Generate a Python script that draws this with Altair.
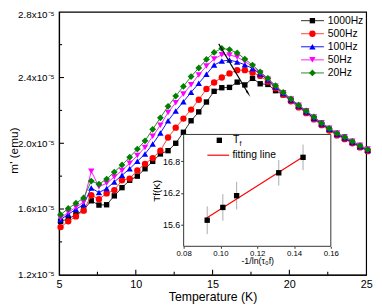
import altair as alt
import pandas as pd

FONT = "Liberation Sans"

# ---------------- main data (m' in units of 1e-5 emu) ----------------
temps = [5.1, 5.6, 6.1, 6.6, 7.1, 7.6, 8.1, 8.6, 9.1, 9.6,
         10.1, 10.6, 11.1, 11.6, 12.1, 12.6, 13.1, 13.6, 14.1, 14.6,
         15.1, 15.6, 16.1, 16.6, 17.1, 17.6, 18.1, 18.6, 19.1, 19.6,
         20.1, 20.6, 21.1, 21.6, 22.1, 22.6, 23.1, 23.6, 24.1, 24.6, 25.1]

m_1000 = [1.525, 1.540, 1.565, 1.595, 1.650, 1.624, 1.626, 1.680, 1.730, 1.775,
          1.800, 1.845, 1.890, 1.935, 1.955, 2.000, 2.067, 2.137, 2.191, 2.251,
          2.316, 2.338, 2.340, 2.372, 2.355, 2.395, 2.362, 2.358, 2.320, 2.295,
          2.262, 2.225, 2.190, 2.150, 2.115, 2.083, 2.053, 2.030, 2.004, 1.978, 1.955]

m_500 = [1.490, 1.525, 1.555, 1.590, 1.684, 1.660, 1.695, 1.715, 1.775, 1.785,
         1.835, 1.875, 1.910, 1.955, 2.035, 2.095, 2.150, 2.205, 2.265, 2.330,
         2.370, 2.400, 2.425, 2.445, 2.445, 2.430, 2.410, 2.375, 2.335, 2.295,
         2.255, 2.218, 2.183, 2.145, 2.110, 2.078, 2.048, 2.025, 2.000, 1.975, 1.952]

m_100 = [1.535, 1.568, 1.598, 1.628, 1.728, 1.700, 1.725, 1.765, 1.805, 1.845,
         1.890, 1.935, 1.995, 2.062, 2.137, 2.197, 2.253, 2.310, 2.365, 2.420,
         2.476, 2.500, 2.506, 2.495, 2.478, 2.455, 2.422, 2.385, 2.342, 2.303,
         2.263, 2.227, 2.190, 2.153, 2.118, 2.085, 2.055, 2.032, 2.006, 1.980, 1.958]

m_50 = [1.545, 1.580, 1.610, 1.643, 1.830, 1.735, 1.757, 1.795, 1.835, 1.878,
        1.925, 1.975, 2.042, 2.110, 2.187, 2.247, 2.300, 2.356, 2.416, 2.470,
        2.512, 2.539, 2.537, 2.525, 2.497, 2.467, 2.428, 2.390, 2.347, 2.307,
        2.270, 2.232, 2.198, 2.160, 2.125, 2.092, 2.062, 2.040, 2.013, 1.988, 1.965]

m_20 = [1.565, 1.603, 1.635, 1.667, 1.770, 1.752, 1.782, 1.825, 1.868, 1.915,
        1.965, 2.015, 2.085, 2.155, 2.225, 2.287, 2.346, 2.406, 2.458, 2.510,
        2.553, 2.577, 2.570, 2.550, 2.512, 2.476, 2.434, 2.395, 2.350, 2.310,
        2.270, 2.232, 2.197, 2.160, 2.123, 2.090, 2.060, 2.038, 2.012, 1.985, 1.962]

series_names = ["1000Hz", "500Hz", "100Hz", "50Hz", "20Hz"]
series_values = [m_1000, m_500, m_100, m_50, m_20]

# ---------------- inset data ----------------
inv_x = [0.0928, 0.1013, 0.1088, 0.1317, 0.1449]
tf = [15.69, 15.93, 16.15, 16.58, 16.87]
tf_err = [0.26, 0.25, 0.26, 0.24, 0.24]
fit_x = [0.0925, 0.145]
fit_y = [15.73, 16.88]

# ---------------- styles ----------------
styles = {
    "1000Hz": dict(line="#303030", pt="#000000", shape="square", size=30),
    "500Hz": dict(line="#ff4040", pt="#ff0000", shape="circle", size=42),
    "100Hz": dict(line="#1010ff", pt="#0000ff", shape="triangle-up", size=42),
    "50Hz": dict(line="#ff20ff", pt="#ff00ff", shape="triangle-down", size=42),
    "20Hz": dict(line="#2a8a2a", pt="#008000", shape="diamond", size=48),
}

xs = alt.Scale(domain=[5, 25], nice=False, zero=False)
ys = alt.Scale(domain=[1.2, 2.8], nice=False, zero=False)

x_axis = alt.Axis(values=[5, 10, 15, 20, 25], tickSize=0, labelFontSize=11,
                  labelPadding=4, labelFlush=False, grid=False,
                  domainColor="black", domainWidth=1.2,
                  title="Temperature (K)", titleFontSize=12.5, titlePadding=1)
y_axis = alt.Axis(values=[1.2, 1.6, 2.0, 2.4, 2.8], tickSize=0, labelFontSize=10,
                  labelPadding=5, labelFlush=False, grid=False,
                  labelExpr="format(datum.value, '.1f') + 'x10⁻⁵'",
                  labelOffset=alt.condition("datum.value > 2.7", alt.value(3), alt.value(0)),
                  domainColor="black", domainWidth=1.2,
                  title="m' (emu)", titleFontSize=12, titleAngle=270,
                  titleX=-51, titleY=141, titleBaseline="top", titleAlign="center")


def X(f):
    return alt.X(f, scale=xs, axis=x_axis)


def Y(f):
    return alt.Y(f, scale=ys, axis=y_axis)


layers = []

# inward ticks
tx_major = pd.DataFrame({"x": [10, 15, 20], "y": 1.2, "y2": 1.23})
tx_minor = pd.DataFrame({"x": [7.5, 12.5, 17.5, 22.5], "y": 1.2, "y2": 1.218})
ty_major = pd.DataFrame({"y": [1.6, 2.0, 2.4], "x": 5.0, "x2": 5.32})
ty_minor = pd.DataFrame({"y": [1.4, 1.8, 2.2, 2.6], "x": 5.0, "x2": 5.2})

for d in [tx_major, tx_minor]:
    layers.append(alt.Chart(d).mark_rule(color="black", strokeWidth=1.1).encode(
        x=X("x:Q"), y=Y("y:Q"), y2="y2:Q"))
for d in [ty_major, ty_minor]:
    layers.append(alt.Chart(d).mark_rule(color="black", strokeWidth=1.1).encode(
        x=X("x:Q"), x2="x2:Q", y=Y("y:Q")))

# data series
for name, vals in zip(series_names, series_values):
    st = styles[name]
    d = pd.DataFrame({"T": temps, "m": vals})
    layers.append(alt.Chart(d).mark_line(color=st["line"], strokeWidth=1).encode(
        x=X("T:Q"), y=Y("m:Q")))
    layers.append(alt.Chart(d).mark_point(filled=True, shape=st["shape"], size=st["size"],
                                          color=st["pt"], opacity=1).encode(
        x=X("T:Q"), y=Y("m:Q")))

# arrow
arrow = pd.DataFrame({"T": [15.4, 17.3], "m": [2.605, 2.306]})
layers.append(alt.Chart(arrow).mark_line(color="black", strokeWidth=1.2).encode(
    x=X("T:Q"), y=Y("m:Q")))
layers.append(alt.Chart(arrow.iloc[[1]]).mark_point(shape="wedge", angle=149, size=70,
                                                   filled=True, color="black", opacity=1).encode(
    x=X("T:Q"), y=Y("m:Q")))

# legend (placed in data coordinates)
for k, name in enumerate(series_names):
    st = styles[name]
    ly = 2.746 - 0.0795 * k
    seg = pd.DataFrame({"T": [20.76, 22.25], "m": [ly, ly]})
    layers.append(alt.Chart(seg).mark_line(color=st["line"], strokeWidth=1).encode(
        x=X("T:Q"), y=Y("m:Q")))
    pt = pd.DataFrame({"T": [21.5], "m": [ly], "label": [name]})
    layers.append(alt.Chart(pt).mark_point(filled=True, shape=st["shape"], size=st["size"],
                                           color=st["pt"], opacity=1).encode(
        x=X("T:Q"), y=Y("m:Q")))
    lt = pd.DataFrame({"T": [22.5], "m": [ly], "label": [name]})
    layers.append(alt.Chart(lt).mark_text(align="left", baseline="middle", fontSize=10.5,
                                          font=FONT, color="black").encode(
        x=X("T:Q"), y=Y("m:Q"), text="label:N"))

main = alt.layer(*layers)

# ---------------- inset ----------------
ixs = alt.Scale(domain=[0.08, 0.16], range=[127, 277], nice=False, zero=False)
iys = alt.Scale(domain=[15.2, 17.3], range=[239, 125], nice=False, zero=False)

ix_axis = alt.Axis(orient="bottom", offset=-29, values=[0.08, 0.10, 0.12, 0.14, 0.16],
                   format=".2f", labelFontSize=8, tickSize=2, labelPadding=1,
                   domain=False, grid=False, labelFlush=False, tickColor="#333",
                   title="-1/ln(τ₀f)", titleFontSize=9, titlePadding=0)
iy_axis = alt.Axis(orient="left", offset=-127, values=[15.6, 16.2, 16.8], format=".1f",
                   labelFontSize=9, tickSize=3, labelPadding=1, domain=False, grid=False,
                   labelFlush=False, tickColor="#333",
                   title="Tf(K)", titleFontSize=10, titlePadding=1)


def IX(f):
    return alt.X(f, scale=ixs, axis=ix_axis)


def IY(f):
    return alt.Y(f, scale=iys, axis=iy_axis)


frame = pd.DataFrame({"x": [0.08], "x2": [0.16], "y": [15.2], "y2": [17.3]})
ilayers = [alt.Chart(frame).mark_rect(fill="white", stroke="#333333", strokeWidth=1).encode(
    x=IX("x:Q"), x2="x2:Q", y=IY("y:Q"), y2="y2:Q")]

idf = pd.DataFrame({"x": inv_x, "y": tf, "err": tf_err})
idf["lo"] = idf["y"] - idf["err"]
idf["hi"] = idf["y"] + idf["err"]
ilayers.append(alt.Chart(idf).mark_rule(color="#aaaaaa", strokeWidth=1).encode(
    x=IX("x:Q"), y=IY("lo:Q"), y2="hi:Q"))
fdf = pd.DataFrame({"x": fit_x, "y": fit_y})
ilayers.append(alt.Chart(fdf).mark_line(color="#ff0000", strokeWidth=1.2).encode(
    x=IX("x:Q"), y=IY("y:Q")))
ilayers.append(alt.Chart(idf).mark_point(filled=True, shape="square", size=30,
                                         color="black", opacity=1).encode(
    x=IX("x:Q"), y=IY("y:Q")))

# inset legend
ilayers.append(alt.Chart(pd.DataFrame({"x": [0.0994], "y": [17.19]})).mark_point(
    filled=True, shape="square", size=30, color="black", opacity=1).encode(
    x=IX("x:Q"), y=IY("y:Q")))
ilayers.append(alt.Chart(pd.DataFrame({"x": [0.1068], "y": [17.19], "t": ["T"]})).mark_text(
    align="left", baseline="middle", fontSize=10.5, font=FONT, color="black").encode(
    x=IX("x:Q"), y=IY("y:Q"), text="t:N"))
ilayers.append(alt.Chart(pd.DataFrame({"x": [0.1103], "y": [17.125], "t": ["f"]})).mark_text(
    align="left", baseline="middle", fontSize=7, font=FONT, color="black").encode(
    x=IX("x:Q"), y=IY("y:Q"), text="t:N"))
ilayers.append(alt.Chart(pd.DataFrame({"x": [0.0929, 0.1047], "y": [16.91, 16.91]})).mark_line(
    color="#ff0000", strokeWidth=1.2).encode(
    x=IX("x:Q"), y=IY("y:Q")))
ilayers.append(alt.Chart(pd.DataFrame({"x": [0.1065], "y": [16.91], "t": ["fitting line"]})).mark_text(
    align="left", baseline="middle", fontSize=10.5, font=FONT, color="black").encode(
    x=IX("x:Q"), y=IY("y:Q"), text="t:N"))

inset = alt.layer(*ilayers)

chart = alt.layer(main, inset).resolve_scale(x="independent", y="independent").properties(
    width=313, height=268,
    padding={"left": 52, "top": 1, "right": 8, "bottom": 30},
    autosize=alt.AutoSizeParams(type="none"),
).configure_view(stroke="black", strokeWidth=1.2).configure_axis(
    labelFont=FONT, titleFont=FONT, labelColor="black", titleColor="black",
    titleFontWeight="normal")

chart.save("out.html", embed_options={"renderer": "svg", "actions": False})
